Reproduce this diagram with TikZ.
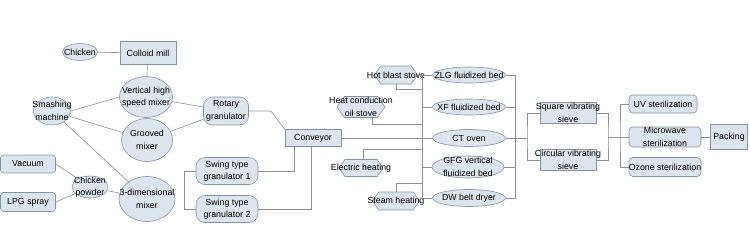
\documentclass[tikz,border=0pt]{standalone}
\usepackage{fontspec}
\setmainfont{Liberation Sans}
\usetikzlibrary{shapes.geometric,shapes.symbols}

\definecolor{shapefill}{HTML}{DCE5ED}
\definecolor{shapeline}{HTML}{8393A0}
\definecolor{linkgray}{HTML}{8E8E8E}

\begin{document}
\begin{tikzpicture}[x=1pt,y=-1pt,
    font=\fontsize{8.8}{12.5}\selectfont,
    base/.style={draw=shapeline, fill=shapefill, line width=0.6pt, inner sep=0pt},
    oval/.style={base, ellipse},
    box/.style={base, rectangle},
    rbox/.style={base, rectangle, rounded corners=#1},
    rbox/.default=3pt,
    hexa/.style={base, signal, signal to=east and west, signal pointer angle=110},
    txt/.style={label={[align=center]center:#1}},
    link/.style={draw=linkgray, line width=0.6pt}]
  \useasboundingbox (0,0) rectangle (750,233);

  % raw material and mixing
  \node[oval, minimum width=35, minimum height=17, txt=Chicken] (chicken) at (80,52) {};
  \node[box, minimum width=56, minimum height=23, txt={Colloid mill}] (colloid) at (148,53) {};
  \node[oval, minimum width=53, minimum height=41, txt={Vertical high\\speed mixer}] (vhsm) at (146,97) {};
  \node[oval, minimum width=37, minimum height=28, txt={Smashing\\machine}] (smash) at (52,111) {};
  \node[oval, minimum width=51, minimum height=43, txt={Grooved\\mixer}] (grooved) at (147,140) {};
  \node[rbox, minimum width=55, minimum height=18, txt=Vacuum] (vacuum) at (28,164) {};
  \node[rbox, minimum width=55, minimum height=19, txt={LPG spray}] (lpg) at (28,202) {};
  \node[oval, minimum width=36, minimum height=22, txt={Chicken\\powder}] (cpowder) at (90,187) {};
  \node[oval, minimum width=56, minimum height=45, txt={3-dimensional\\mixer}] (tdm) at (147,199) {};

  % granulating
  \node[rbox=9pt, minimum width=45, minimum height=28, txt={Rotary\\granulator}] (rotary) at (226,111) {};
  \node[rbox=9pt, minimum width=62, minimum height=27, txt={Swing type\\granulator 1}] (swing1) at (227,171) {};
  \node[rbox=9pt, minimum width=62, minimum height=27, txt={Swing type\\granulator 2}] (swing2) at (227,209) {};
  \node[box, minimum width=56, minimum height=17, txt=Conveyor] (conveyor) at (313,138) {};

  % heat sources and dryers
  \node[hexa, minimum width=43, minimum height=18, txt={Hot blast stove}] (hbs) at (396,75) {};
  \node[hexa, minimum width=48, minimum height=21, txt={Heat conduction\\oil stove}] (hcos) at (361,107) {};
  \node[hexa, minimum width=44, minimum height=17, txt={Electric heating}] (elec) at (361,168) {};
  \node[hexa, minimum width=47, minimum height=18, txt={Steam heating}] (steam) at (396,201) {};
  \node[oval, minimum width=73, minimum height=16, txt={ZLG fluidized bed}] (zlg) at (469,75) {};
  \node[oval, minimum width=73, minimum height=16, txt={XF fluidized bed}] (xf) at (469,107) {};
  \node[oval, minimum width=73, minimum height=17, txt={CT oven}] (ct) at (469,138) {};
  \node[oval, minimum width=72, minimum height=22, txt={GFG vertical\\fluidized bed}] (gfg) at (468,167) {};
  \node[oval, minimum width=73, minimum height=17, txt={DW belt dryer}] (dw) at (469,198) {};

  % sieving, sterilizing, packing
  \node[box, minimum width=56, minimum height=21, txt={Square vibrating\\sieve}] (sq) at (568,113) {};
  \node[box, minimum width=56, minimum height=21, txt={Circular vibrating\\sieve}] (circ) at (568,160) {};
  \node[rbox=4pt, minimum width=68, minimum height=18, txt={UV sterilization}] (uv) at (663,104) {};
  \node[rbox=4pt, minimum width=72, minimum height=20, txt={Microwave\\sterilization}] (micro) at (665,137) {};
  \node[rbox=4pt, minimum width=72, minimum height=19, txt={Ozone sterilization}] (ozone) at (665,167) {};
  \node[box, minimum width=37, minimum height=25, txt=Packing] (packing) at (729,137) {};

  \coordinate (busL) at (422,75);
  \coordinate (busR) at (515,75);
  \coordinate (spl) at (527,138);
  \coordinate (spl2) at (608,137);
  \coordinate (spl3) at (620,137);

  % left part
  \path[link] (chicken) -- (colloid);
  \path[link] (colloid) -- (vhsm);
  \path[link] (smash.east) -- (vhsm.west);
  \path[link] (smash) -- (grooved);
  \path[link] (smash) -- (tdm);
  \path[link] (vhsm) -- (rotary);
  \path[link] (grooved) -- (rotary);
  \path[link] (vacuum.east) -- (cpowder);
  \path[link] (lpg.east) -- (cpowder);
  \path[link] (cpowder) -- (tdm);
  \path[link] (rotary.east) -- ++(22,0) -- (conveyor.north west);
  \path[link] ([xshift=-19pt]conveyor.south) |- (swing1.east);
  \path[link] ([xshift=-2pt]conveyor.south) |- (swing2.east);
  \path[link] (swing1.west) -- ++(-11,0) |- (swing2.west);

  % dryers
  \path[link] (conveyor) -- (ct);
  \path[link] (hbs.east) -- (zlg.west);
  \path[link] (busL) |- (dw.west);
  \path[link] (busL |- xf.west) -- (xf.west);
  \path[link] (busL |- gfg.west) -- (gfg.west);
  \path[link] (hbs.south) |- ([yshift=-14pt]busL);
  \path[link] ([xshift=11pt]hcos.south) |- ([yshift=-49pt]busL);
  \path[link] ([xshift=2pt]elec.north) |- ([yshift=-74pt]busL);
  \path[link] (steam.north) |- ([yshift=-108pt]busL);
  \path[link] (zlg.east) -- (busR) |- (dw.east);
  \path[link] (xf.east) -- (busR |- xf.east);
  \path[link] (gfg.east) -- (busR |- gfg.east);

  % sieves and sterilization
  \path[link] (ct.east) -- (spl);
  \path[link] (sq.west) -| (spl) |- (circ.west);
  \path[link] (sq.east) -| (spl2) |- (circ.east);
  \path[link] (spl2) -- (micro.west);
  \path[link] (uv.west) -| (spl3) |- (ozone.west);
  \path[link] (micro) -- (packing);
\end{tikzpicture}
\end{document}
